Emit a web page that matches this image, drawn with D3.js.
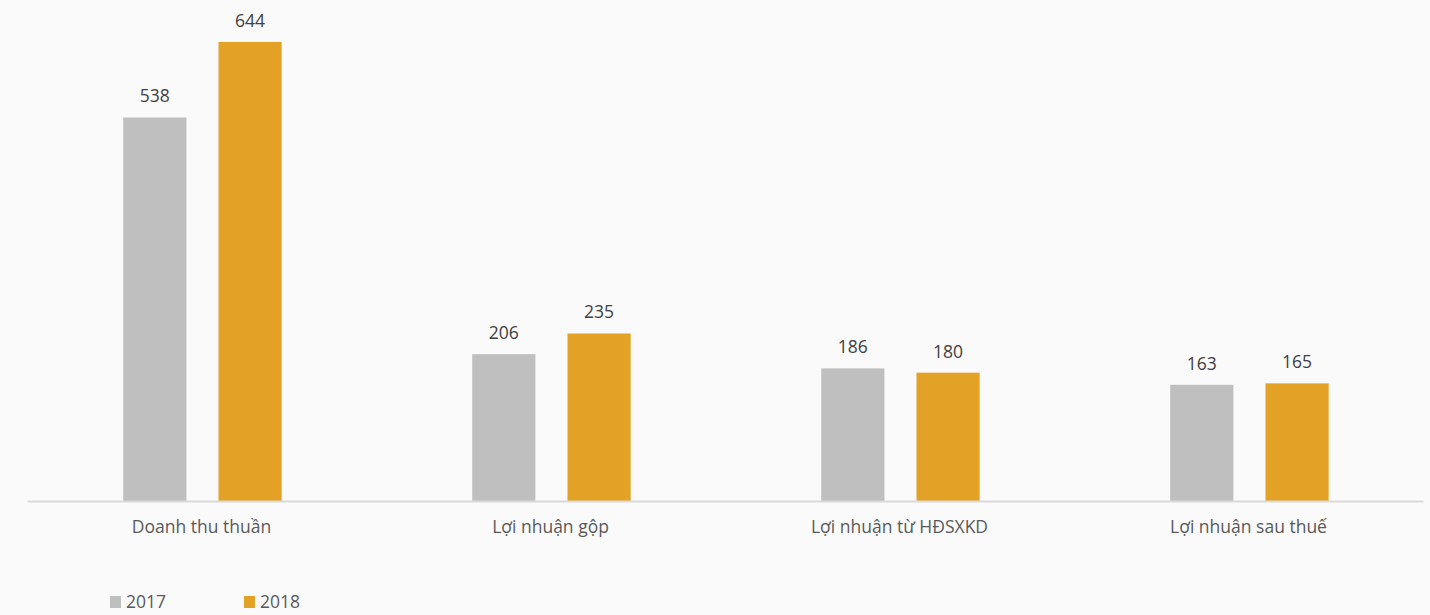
<!DOCTYPE html>
<html>
<head>
<meta charset="utf-8">
<script src="https://cdnjs.cloudflare.com/ajax/libs/d3/7.8.5/d3.min.js"></script>
<style>
  body { margin: 0; background: #fafafa; }
  text { font-family: "Open Sans", sans-serif; }
</style>
</head>
<body>
<div id="wrapper"></div>
<script>
const categories = ["Doanh thu thuần", "Lợi nhuận gộp", "Lợi nhuận từ HĐSXKD", "Lợi nhuận sau thuế"];
const years = ["2017", "2018"];
const values2017 = [538, 206, 186, 163];
const values2018 = [644, 235, 180, 165];
const colors = ["#bfbfbf", "#e3a126"];

function drawBarChart() {
    const dimensions = {
        width: 1430,
        height: 615,
        margin: { top: 2, right: 7, bottom: 114, left: 27 },
    };
    dimensions.boundedWidth = dimensions.width - dimensions.margin.left - dimensions.margin.right;
    dimensions.boundedHeight = dimensions.height - dimensions.margin.top - dimensions.margin.bottom;

    const dataset = categories.map((c, i) => ({
        category: c,
        values: [
            { year: years[0], value: values2017[i] },
            { year: years[1], value: values2018[i] },
        ],
    }));

    const wrapper = d3.select("#wrapper")
        .append("svg")
        .attr("width", dimensions.width)
        .attr("height", dimensions.height)
        .style("background", "#fafafa");

    const bounds = wrapper.append("g")
        .attr("transform", `translate(${dimensions.margin.left},${dimensions.margin.top})`);

    const x0 = d3.scaleBand()
        .domain(categories)
        .range([0, dimensions.boundedWidth]);

    const x1 = d3.scaleBand()
        .domain(years)
        .range([0, x0.bandwidth()])
        .paddingInner(0.337)
        .paddingOuter(1.0)
        .align(0.505);

    const yScale = d3.scaleLinear()
        .domain([0, 700])
        .range([dimensions.boundedHeight, 0]);

    const colorScale = d3.scaleOrdinal().domain(years).range(colors);

    const groups = bounds.selectAll(".group")
        .data(dataset)
        .join("g")
        .attr("class", "group")
        .attr("transform", d => `translate(${x0(d.category)},0)`);

    groups.selectAll("rect")
        .data(d => d.values)
        .join("rect")
        .attr("x", d => x1(d.year))
        .attr("width", x1.bandwidth())
        .attr("y", d => yScale(d.value))
        .attr("height", d => dimensions.boundedHeight - yScale(d.value))
        .attr("fill", d => colorScale(d.year));

    groups.selectAll(".value")
        .data(d => d.values)
        .join("text")
        .attr("class", "value")
        .attr("x", d => x1(d.year) + x1.bandwidth() / 2)
        .attr("y", d => yScale(d.value) - 15)
        .attr("text-anchor", "middle")
        .attr("font-size", 17.5)
        .attr("fill", "#404040")
        .text(d => d.value);

    // x axis
    const xAxisGenerator = d3.axisBottom(x0).tickSize(0).tickPadding(20);
    const xAxis = bounds.append("g")
        .attr("transform", `translate(0,${dimensions.boundedHeight})`)
        .call(xAxisGenerator);
    xAxis.select(".domain").attr("stroke", "#d9d9d9").attr("stroke-width", 2);
    xAxis.selectAll("text")
        .attr("font-size", 17.5)
        .attr("fill", "#595959")
        .style("font-family", "'Open Sans', sans-serif");

    // legend
    const legendX = d3.scaleOrdinal().domain(years).range([110, 244]);
    const legend = wrapper.append("g")
        .selectAll("g")
        .data(years)
        .join("g")
        .attr("transform", d => `translate(${legendX(d)},596)`);
    legend.append("rect")
        .attr("width", 11)
        .attr("height", 12)
        .attr("fill", d => colorScale(d));
    legend.append("text")
        .attr("x", 16)
        .attr("y", 12)
        .attr("font-size", 17.5)
        .attr("fill", "#595959")
        .text(d => d);
}

drawBarChart();
</script>
</body>
</html>
